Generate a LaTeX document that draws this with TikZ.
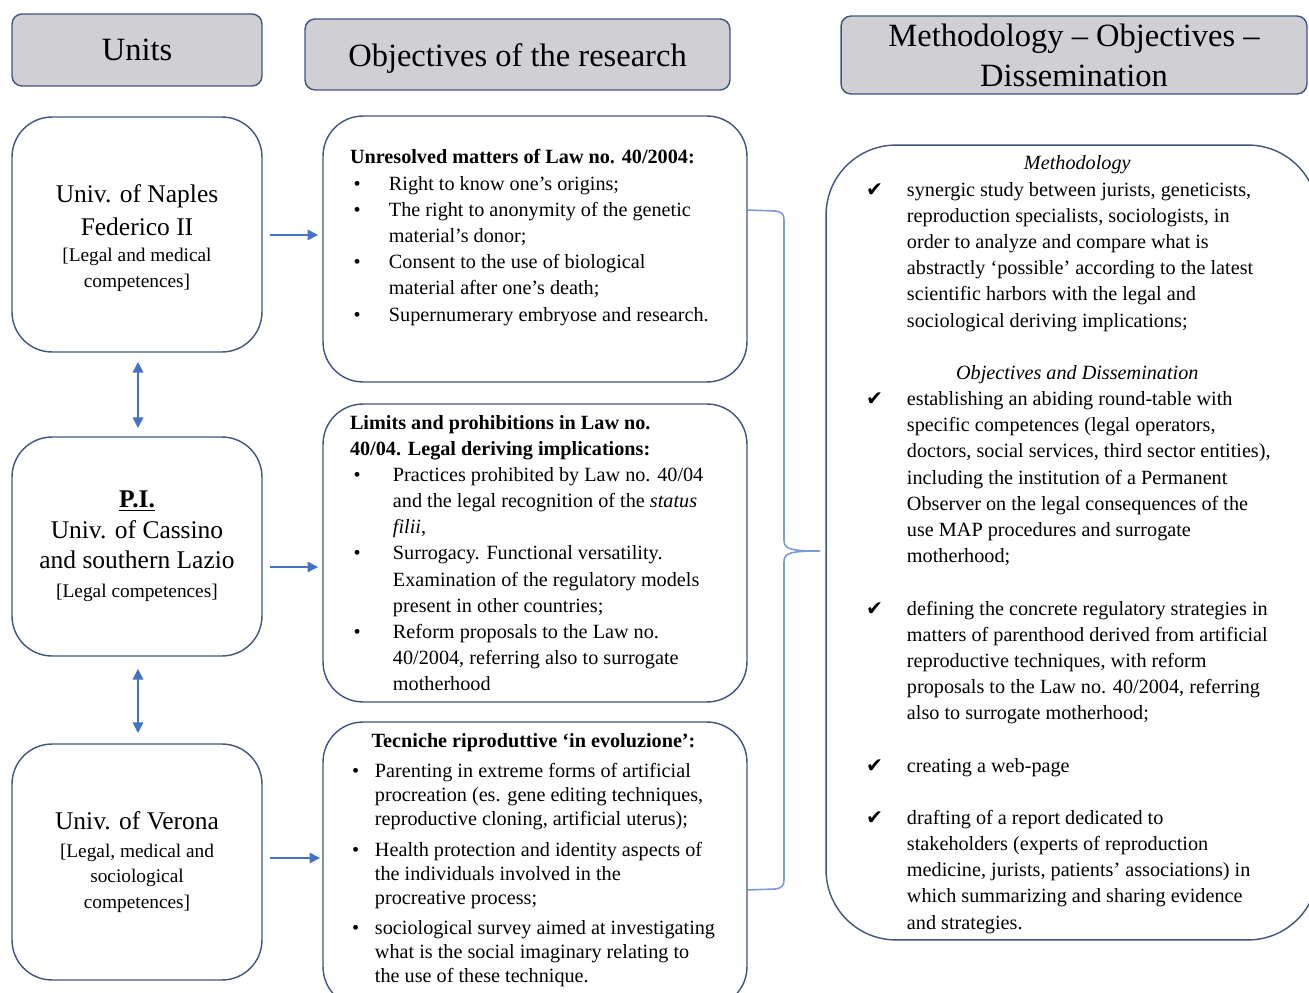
\documentclass[tikz,border=0pt]{standalone}
\usepackage{fontspec}
\setmainfont{Liberation Serif}
\newfontfamily\symfont{DejaVu Sans}
\usetikzlibrary{positioning, arrows.meta}

\definecolor{boxline}{HTML}{41547E}
\definecolor{headfill}{HTML}{D0CFD3}
\definecolor{arrowblue}{HTML}{4472C4}
\definecolor{braceblue}{HTML}{7B9BD4}

\newcommand{\bul}{\hspace{2pt}\textbullet}
\newcommand{\chk}{{\symfont\bfseries ✔}}
\newcommand{\lowr}[2]{\raisebox{-#1}[\height][\depth]{#2}}

\begin{document}
\begin{tikzpicture}[
    x=0.02cm, y=-0.02cm,
    headbox/.style={draw=boxline, fill=headfill, line width=0.8pt, rounded corners=0.2cm,
        inner sep=0pt, outer sep=0pt, align=center, font=\fontsize{18.5}{22.8}\selectfont},
    unitbox/.style={draw=boxline, line width=0.8pt, rounded corners=0.8cm, minimum width=5cm,
        inner sep=0pt, outer sep=0pt, align=center, font=\fontsize{14.5}{18.8}\selectfont},
    objbox/.style={draw=boxline, line width=0.8pt, rounded corners=0.8cm, minimum width=8.48cm,
        inner sep=0pt, outer sep=0pt},
    txt/.style={inner sep=0pt, outer sep=0pt, font=\fontsize{11.5}{14.9}\selectfont},
    arr/.style={-{Triangle[width=6pt,length=6pt]}, arrowblue, line width=0.8pt},
    dbl/.style={{Triangle[width=6pt,length=6pt]}-{Triangle[width=6pt,length=6pt]}, arrowblue, line width=0.8pt},
    brace/.style={braceblue, line width=0.9pt}
]
    \useasboundingbox (0,0) rectangle (1309,993);
    \clip (0,0) rectangle (1309,993);

    % Headers
    \node[headbox, minimum width=5cm, minimum height=1.44cm] (hunits) at (137,50) {Units};
    \node[headbox, minimum width=8.5cm, minimum height=1.42cm] (hobj) at (517.5,54.5) {\lowr{2.2pt}{Objectives of the research}};
    \node[headbox, minimum width=9.32cm, minimum height=1.56cm] (hmeth) at (1074,55)
        {Methodology -- Objectives --\\Dissemination};

    % Units
    \node[unitbox, minimum height=4.7cm] (naples) at (137,234.5)
        {\lowr{1.8pt}{Univ. of Naples}\\\lowr{1.8pt}{Federico II}\\[-4pt]{\fontsize{11}{13}\selectfont \lowr{1.8pt}{[Legal and medical}}\\[-4pt]{\fontsize{11}{13}\selectfont \lowr{1.8pt}{competences]}}};
    \node[unitbox, minimum height=4.38cm] (cassino) at (137,546.5)
        {\underline{\textbf{P.I.}}\\[-1.2pt]Univ. of Cassino\\[-1.8pt]and southern Lazio\\[-2.3pt]{\fontsize{11}{13}\selectfont [Legal competences]}};
    \node[unitbox, minimum height=4.72cm] (verona) at (137,862)
        {Univ. of Verona\\[-2.9pt]{\fontsize{11}{13}\selectfont [Legal, medical and}\\[-4.6pt]{\fontsize{11}{13}\selectfont sociological}\\[-4pt]{\fontsize{11}{13}\selectfont competences]}};

    % Objectives boxes
    \node[objbox, minimum height=5.32cm] (obj1) at (535,249) {};
    \node[objbox, minimum height=5.96cm] (obj2) at (535,553) {};
    \node[objbox, minimum height=5.7cm] (obj3) at (535,864.5) {};

    \node[txt, anchor=base west] (obj1txt) at (350,164) {%
    \begin{tabular}[t]{@{}p{0.78cm}@{}l@{}}
    \multicolumn{2}{@{}l@{}}{\textbf{Unresolved matters of Law no. 40/2004:}}\\
    \bul & Right to know one’s origins;\\
    \bul & The right to anonymity of the genetic\\
         & material’s donor;\\
    \bul & Consent to the use of biological\\
         & material after one’s death;\\
    \bul & Supernumerary embryose and research.
    \end{tabular}};

    \node[txt, anchor=base west] (obj2txt) at (350,429) {%
    \begin{tabular}[t]{@{}p{0.86cm}@{}l@{}}
    \multicolumn{2}{@{}l@{}}{\textbf{Limits and prohibitions in Law no.}}\\
    \multicolumn{2}{@{}l@{}}{\textbf{40/04. Legal deriving implications:}}\\
    \bul & Practices prohibited by Law no. 40/04\\
         & and the legal recognition of the \textit{status}\\
         & \textit{filii},\\
    \bul & Surrogacy. Functional versatility.\\
         & Examination of the regulatory models\\
         & present in other countries;\\
    \bul & Reform proposals to the Law no.\\
         & 40/2004, referring also to surrogate\\
         & motherhood
    \end{tabular}};

    \node[txt, anchor=base west, font=\fontsize{11.5}{13.66}\selectfont] (obj3txt) at (352,747) {%
    \begin{tabular}[t]{@{}p{0.46cm}@{}l@{}}
    \multicolumn{2}{@{}c@{}}{\textbf{Tecniche riproduttive ‘in evoluzione’:}}\\[3.7pt]
    \textbullet & Parenting in extreme forms of artificial\\
         & procreation (es. gene editing techniques,\\
         & reproductive cloning, artificial uterus);\\[3.7pt]
    \textbullet & Health protection and identity aspects of\\
         & the individuals involved in the\\
         & procreative process;\\[3.7pt]
    \textbullet & sociological survey aimed at investigating\\
         & what is the social imaginary relating to\\
         & the use of these technique.
    \end{tabular}};

    % Methodology box
    \node[objbox, rounded corners=1.4cm, minimum width=9.84cm, minimum height=15.9cm] (meth) at (1072,542.5) {};
    \node[txt, anchor=base west] (methtxt) at (866,170) {%
    \begin{tabular}[t]{@{}p{0.82cm}@{}l@{}}
    \multicolumn{2}{@{}c@{}}{\hspace{0.36cm}\textit{Methodology}}\\
    \chk & synergic study between jurists, geneticists,\\
         & reproduction specialists, sociologists, in\\
         & order to analyze and compare what is\\
         & abstractly ‘possible’ according to the latest\\
         & scientific harbors with the legal and\\
         & sociological deriving implications;\\
         & \\
    \multicolumn{2}{@{}c@{}}{\hspace{0.36cm}\textit{Objectives and Dissemination}}\\
    \chk & establishing an abiding round-table with\\
         & specific competences (legal operators,\\
         & doctors, social services, third sector entities),\\
         & including the institution of a Permanent\\
         & Observer on the legal consequences of the\\
         & use MAP procedures and surrogate\\
         & motherhood;\\
         & \\
    \chk & defining the concrete regulatory strategies in\\
         & matters of parenthood derived from artificial\\
         & reproductive techniques, with reform\\
         & proposals to the Law no. 40/2004, referring\\
         & also to surrogate motherhood;\\
         & \\
    \chk & creating a web-page\\
         & \\
    \chk & drafting of a report dedicated to\\
         & stakeholders (experts of reproduction\\
         & medicine, jurists, patients’ associations) in\\
         & which summarizing and sharing evidence\\
         & and strategies.
    \end{tabular}};

    % Arrows
    \coordinate (row1) at (0,235);
    \coordinate (row2) at (0,567);
    \coordinate (row3) at (0,858);
    \draw[dbl, shorten <=0.2cm, shorten >=0.18cm] ([xshift=0.02cm]naples.south) -- ([xshift=0.02cm]cassino.north);
    \draw[dbl, shorten <=0.26cm, shorten >=0.22cm] ([xshift=0.02cm]cassino.south) -- ([xshift=0.02cm]verona.north);
    \draw[arr, shorten <=0.16cm, shorten >=0.1cm] (naples.east |- row1) -- (obj1.west |- row1);
    \draw[arr, shorten <=0.16cm, shorten >=0.1cm] (cassino.east |- row2) -- (obj2.west |- row2);
    \draw[arr, shorten <=0.16cm, shorten >=0.06cm] (verona.east |- row3) -- (obj3.west |- row3);

    % Brace
    \coordinate (btop) at (0,210);
    \coordinate (bbot) at (0,890);
    \coordinate (btip) at (820,551);
    \draw[brace] (obj1.east |- btop) -- (775,211) .. controls (782,212) and (784,214) .. (784,221)
        -- (784,540) .. controls (784,549) and (790,551) .. (btip)
        .. controls (790,551) and (784,553) .. (784,562)
        -- (784,879) .. controls (784,886) and (782,888) .. (775,889) -- (obj3.east |- bbot);
\end{tikzpicture}
\end{document}
